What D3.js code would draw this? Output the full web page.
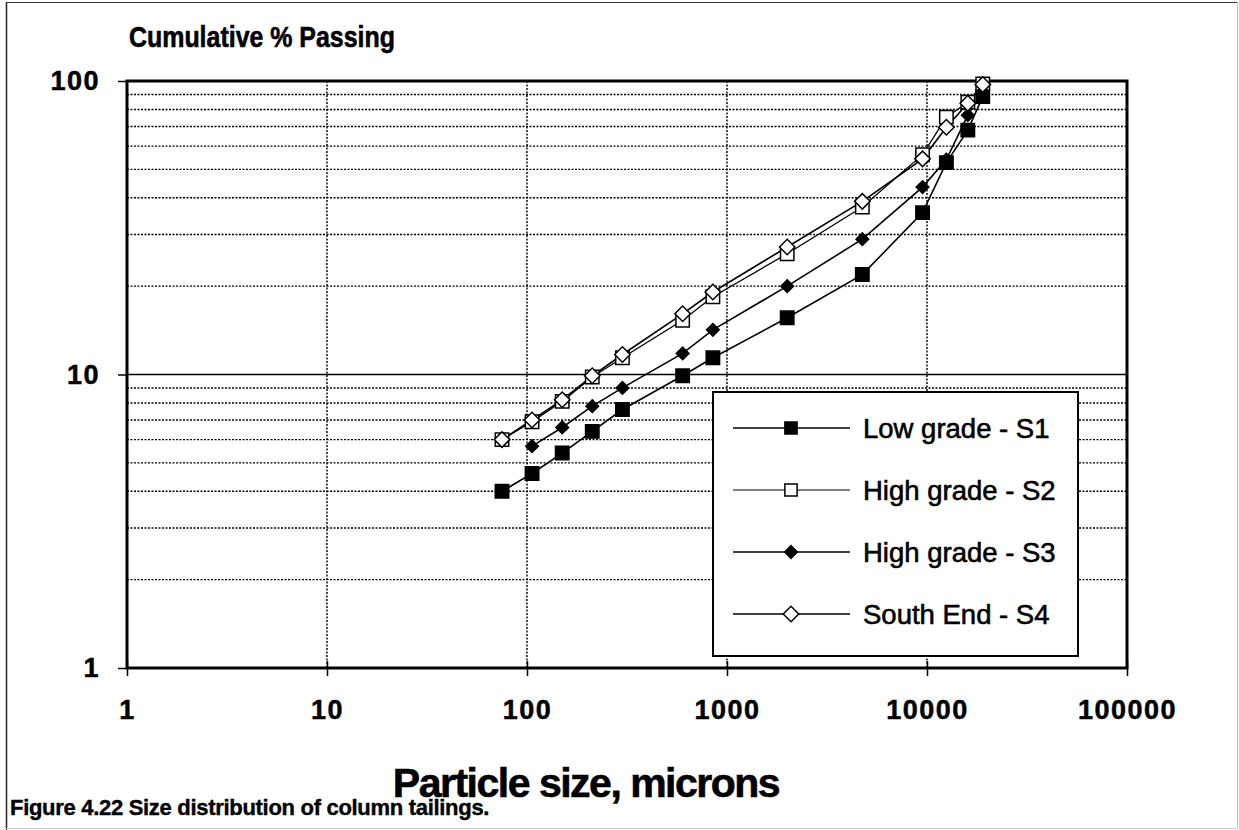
<!DOCTYPE html>
<html>
<head>
<meta charset="utf-8">
<script src="https://cdn.jsdelivr.net/npm/d3@7"></script>
<style>
  body { margin: 0; background: #fff; }
  svg { display: block; font-family: "Liberation Sans", Arial, Helvetica, sans-serif; }
  .tick text { font-weight: bold; font-size: 27px; letter-spacing: 1.5px; fill: #000; stroke: #000; stroke-width: 0.5px; }
  .heavy { font-weight: bold; fill: #000; stroke: #000; stroke-width: 0.6px; }
</style>
</head>
<body>
<svg id="chart" width="1239" height="830"></svg>
<script>
// sieve sizes (microns) and cumulative % passing for each tailings sample
var sizes = [75, 106, 150, 212, 300, 600, 850, 2000, 4750, 9500, 12500, 16000, 19000];
var lowGradeS1  = [4.0, 4.6, 5.4, 6.4, 7.6, 9.9, 11.4, 15.6, 21.9, 35.6, 52.7, 68.0, 88.5];
var highGradeS2 = [6.0, 6.9, 8.1, 9.8, 11.4, 15.3, 18.4, 25.8, 37.2, 56.1, 75.3, 84.7, 97.8];
var highGradeS3 = [null, 5.7, 6.6, 7.8, 9.0, 11.8, 14.2, 20.0, 28.9, 43.5, 54.0, 76.5, 92.0];
var southEndS4  = [6.0, 7.0, 8.2, 9.9, 11.7, 16.1, 19.1, 27.2, 38.9, 54.3, 69.6, 84.0, 97.3];

var seriesNames = ["Low grade - S1", "High grade - S2", "High grade - S3", "South End - S4"];
var xTicks = [1, 10, 100, 1000, 10000, 100000];
var yTicks = [1, 10, 100];

var svg = d3.select("#chart");
var pLeft = 127, pTop = 81, pRight = 1127, pBottom = 668;

var x = d3.scaleLog().domain([1, 100000]).range([pLeft, pRight]);
var y = d3.scaleLog().domain([1, 100]).range([pBottom, pTop]);

// outer figure frame
svg.append("line").attr("x1", 6.5).attr("y1", 2).attr("x2", 6.5).attr("y2", 830).attr("stroke", "#222").attr("stroke-width", 1.5);
svg.append("line").attr("x1", 6).attr("y1", 2.5).attr("x2", 1238).attr("y2", 2.5).attr("stroke", "#333").attr("stroke-width", 1.2);
svg.append("line").attr("x1", 1237.5).attr("y1", 2).attr("x2", 1237.5).attr("y2", 829).attr("stroke", "#bbb").attr("stroke-width", 1);
svg.append("line").attr("x1", 6).attr("y1", 828.5).attr("x2", 1238).attr("y2", 828.5).attr("stroke", "#ccc").attr("stroke-width", 1);

// minor horizontal grid (dotted), decade line at 10 is solid
var minor = [];
[1, 10].forEach(function(dec) {
  for (var k = 2; k <= 9; k++) minor.push(dec * k);
});
svg.append("g").selectAll("line").data(minor).enter().append("line")
    .attr("x1", pLeft).attr("x2", pRight)
    .attr("y1", function(d) { return y(d); }).attr("y2", function(d) { return y(d); })
    .attr("stroke", "#000").attr("stroke-width", 1.4).attr("stroke-dasharray", "2,1.5");
svg.append("line").attr("x1", pLeft).attr("x2", pRight).attr("y1", y(10)).attr("y2", y(10))
    .attr("stroke", "#000").attr("stroke-width", 1.6);

// vertical decade grid (dotted)
svg.append("g").selectAll("line").data([10, 100, 1000, 10000]).enter().append("line")
    .attr("x1", function(d) { return x(d); }).attr("x2", function(d) { return x(d); })
    .attr("y1", pTop).attr("y2", pBottom)
    .attr("stroke", "#000").attr("stroke-width", 1.4).attr("stroke-dasharray", "2,1.5");

// axes
var yAxis = d3.axisLeft(y).tickValues(yTicks).tickFormat(d3.format("d")).tickSize(9).tickPadding(18);
var gy = svg.append("g").attr("transform", "translate(" + pLeft + ",0)").call(yAxis);
gy.select(".domain").remove();
gy.selectAll(".tick line").attr("stroke", "#000").attr("stroke-width", 1.5);

var xAxis = d3.axisBottom(x).tickValues(xTicks).tickFormat(d3.format("d")).tickSize(8).tickPadding(24);
var gx = svg.append("g").attr("transform", "translate(0," + pBottom + ")").call(xAxis);
gx.select(".domain").remove();
gx.selectAll(".tick line").attr("y1", -7).attr("stroke", "#000").attr("stroke-width", 1.5);

// plot frame
svg.append("rect").attr("x", pLeft).attr("y", pTop).attr("width", pRight - pLeft).attr("height", pBottom - pTop)
    .attr("fill", "none").attr("stroke", "#000").attr("stroke-width", 3);

// series: squares and rotated-square diamonds
var data = [lowGradeS1, highGradeS2, highGradeS3, southEndS4];
var lineW = [1.6, 1.3, 1.6, 1.6];
var sym = [
  { size: 180, fill: "#000", rot: 0 },
  { size: 180, fill: "#fff", rot: 0 },
  { size: 80, fill: "#000", rot: 45 },
  { size: 120, fill: "#fff", rot: 45 }
];

var line = d3.line()
    .defined(function(d) { return d[1] != null; })
    .x(function(d) { return x(d[0]); })
    .y(function(d) { return y(d[1]); });

data.forEach(function(vals, i) {
  var pts = sizes.map(function(s, j) { return [s, vals[j]]; });
  svg.append("path").datum(pts).attr("d", line)
      .attr("fill", "none").attr("stroke", "#000").attr("stroke-width", lineW[i]);
});
data.forEach(function(vals, i) {
  var pts = sizes.map(function(s, j) { return [s, vals[j]]; }).filter(function(d) { return d[1] != null; });
  svg.append("g").selectAll("path").data(pts).enter().append("path")
      .attr("d", d3.symbol().type(d3.symbolSquare).size(sym[i].size))
      .attr("transform", function(d) { return "translate(" + x(d[0]) + "," + y(d[1]) + ") rotate(" + sym[i].rot + ")"; })
      .attr("fill", sym[i].fill).attr("stroke", "#000").attr("stroke-width", 1.5);
});

// legend
var lg = svg.append("g");
lg.append("rect").attr("x", 713).attr("y", 392).attr("width", 365).attr("height", 264)
    .attr("fill", "#fff").attr("stroke", "#000").attr("stroke-width", 2);
seriesNames.forEach(function(name, i) {
  var ly = 428 + i * 62;
  lg.append("line").attr("x1", 733).attr("x2", 850).attr("y1", ly).attr("y2", ly)
      .attr("stroke", "#000").attr("stroke-width", i === 1 ? 1 : lineW[i]);
  lg.append("path").attr("d", d3.symbol().type(d3.symbolSquare).size(i < 2 ? 150 : sym[i].size))
      .attr("transform", "translate(791," + ly + ") rotate(" + sym[i].rot + ")")
      .attr("fill", sym[i].fill).attr("stroke", "#000").attr("stroke-width", 1.5);
  lg.append("text").attr("x", 863).attr("y", ly + 10).text(name)
      .attr("font-size", 27.5).attr("fill", "#000").attr("stroke", "#000").attr("stroke-width", 0.6);
});

// titles
svg.append("text").attr("class", "heavy").attr("transform", "translate(129,47) scale(0.86,1)")
    .text("Cumulative % Passing").attr("font-size", 29);
svg.append("text").attr("class", "heavy").attr("x", 586).attr("y", 797).attr("text-anchor", "middle")
    .text("Particle size, microns").attr("font-size", 41).attr("letter-spacing", -1.5);
svg.append("text").attr("class", "heavy").attr("x", 10).attr("y", 815)
    .text("Figure 4.22  Size distribution of column tailings.").attr("font-size", 22).attr("letter-spacing", -0.3)
    .style("stroke-width", "0.4px");
</script>
</body>
</html>
